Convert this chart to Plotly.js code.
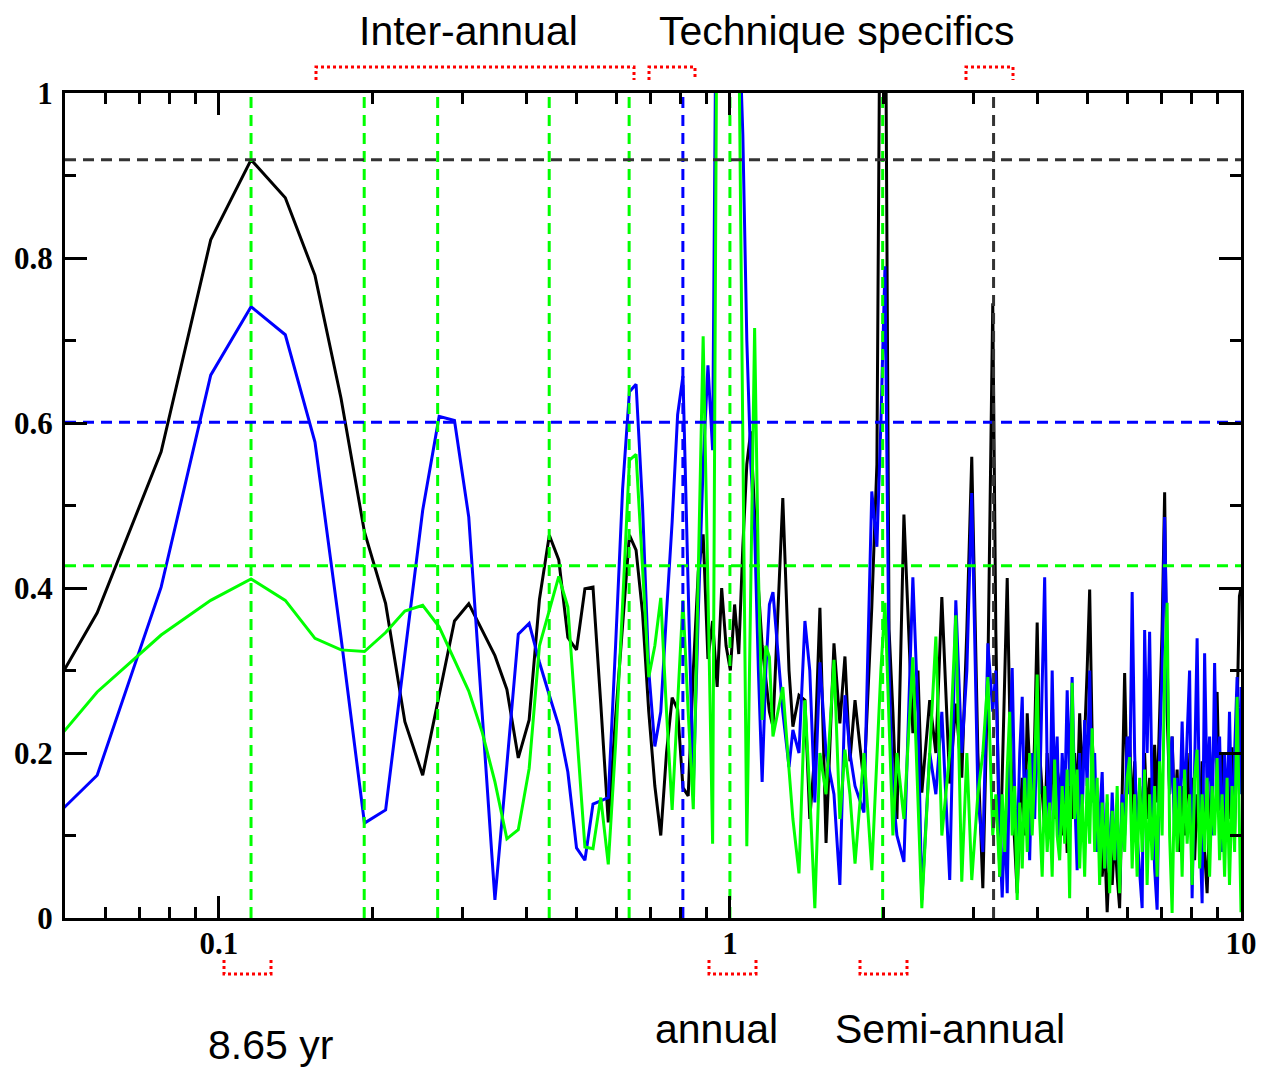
<!DOCTYPE html>
<html>
<head>
<meta charset="utf-8">
<script src="https://cdn.plot.ly/plotly-3.0.1.min.js"></script>
<style>html,body{margin:0;padding:0;background:#fff;}#chart{width:1261px;height:1068px;}</style>
</head>
<body>
<div id="chart"></div>
<script>
// Low-frequency part (uniform spectral grid, cycles per year)
const freqLow = [0.0385,0.0578,0.0771,0.0964,0.1156,0.1349,0.1542,0.1734,0.1927,0.2120,
0.2312,0.2505,0.2698,0.2891,0.3083,0.3276,0.3469,0.3661,0.3854,0.4047,
0.4239,0.4432,0.4625,0.4818,0.5010,0.5203,0.5396,0.5588,0.5781,0.5974,
0.6166,0.6359,0.6552,0.6745,0.6937,0.7130,0.7323,0.7515,0.7708,0.7901,
0.8093,0.8286,0.8479,0.8672,0.8864,0.9057,0.9250,0.9442,0.9635,0.9828,
1.0020,1.0213,1.0406,1.0598,1.0791,1.0984,1.1177,1.1369,1.1562,1.1755,
1.1947,1.2140];
const blackLow = [0.18,0.370,0.565,0.822,0.919,0.873,0.779,0.630,0.468,0.381,
0.238,0.173,0.270,0.360,0.381,0.349,0.318,0.277,0.194,0.240,
0.386,0.464,0.434,0.340,0.325,0.399,0.401,0.260,0.116,0.243,
0.353,0.464,0.446,0.370,0.250,0.160,0.100,0.200,0.267,0.253,
0.158,0.148,0.300,0.420,0.465,0.314,0.360,0.280,0.400,0.330,
0.300,0.380,0.320,0.450,0.550,0.590,0.490,0.400,0.330,0.286,
0.250,0.232];
const blueLow = [0.066,0.173,0.401,0.658,0.741,0.707,0.577,0.340,0.115,0.131,
0.320,0.494,0.608,0.603,0.486,0.250,0.022,0.186,0.344,0.357,
0.310,0.270,0.233,0.177,0.085,0.070,0.138,0.142,0.146,0.330,
0.520,0.638,0.647,0.500,0.300,0.208,0.250,0.370,0.480,0.610,
0.657,0.400,0.157,0.370,0.550,0.670,0.567,1.300,1.600,1.800,
1.700,1.400,1.100,0.950,0.700,0.550,0.470,0.300,0.165,0.300,
0.380,0.395];
const greenLow = [0.144,0.274,0.343,0.385,0.411,0.385,0.339,0.325,0.323,0.346,
0.372,0.379,0.353,0.312,0.275,0.225,0.165,0.096,0.107,0.181,
0.330,0.373,0.414,0.377,0.230,0.086,0.084,0.146,0.065,0.210,
0.380,0.555,0.562,0.420,0.292,0.330,0.388,0.250,0.131,0.260,
0.385,0.250,0.132,0.420,0.705,0.400,0.090,1.200,2.000,2.400,
2.200,1.600,1.100,0.550,0.087,0.400,0.715,0.420,0.240,0.330,
0.316,0.220];

// Mid-frequency part (read at visible extremes, 1.27 - 3.3 cpy)
const freqMid = [1.269,1.305,1.328,1.365,1.402,1.433,1.466,1.500,1.542,1.598,
1.641,1.679,1.717,1.757,1.829,1.895,1.939,1.974,2.011,2.048,
2.084,2.122,2.190,2.280,2.333,2.374,2.460,2.529,2.598,2.692,
2.767,2.842,2.908,2.973,3.056,3.125,3.197,3.268,3.313];
const blackMid = [0.509,0.30,0.232,0.27,0.264,0.12,0.20,0.376,0.091,0.333,
0.236,0.317,0.19,0.264,0.163,0.377,0.55,1.3,1.25,0.35,
0.25,0.12,0.489,0.224,0.30,0.152,0.264,0.2,0.389,0.163,
0.26,0.17,0.35,0.559,0.2,0.036,0.3,0.745,0.35];
const blueMid = [0.25,0.183,0.228,0.20,0.36,0.30,0.14,0.31,0.20,0.15,
0.04,0.27,0.20,0.16,0.128,0.517,0.45,0.60,0.79,0.30,
0.15,0.10,0.068,0.413,0.25,0.022,0.20,0.15,0.25,0.046,
0.385,0.20,0.30,0.515,0.15,0.08,0.333,0.25,0.30];
const greenMid = [0.28,0.18,0.12,0.054,0.264,0.15,0.012,0.20,0.15,0.313,
0.12,0.204,0.15,0.066,0.20,0.058,0.20,0.30,0.382,0.25,
0.10,0.20,0.12,0.316,0.15,0.012,0.20,0.341,0.10,0.20,
0.367,0.044,0.20,0.046,0.15,0.20,0.292,0.10,0.15];

// High-frequency part (dense band, 3.37 - 10 cpy)
const freqHigh = [3.372,3.410,3.449,3.488,3.527,3.567,3.607,3.648,3.690,3.732,
3.774,3.817,3.859,3.903,3.947,3.992,4.037,4.083,4.129,4.176,
4.223,4.271,4.319,4.368,4.418,4.468,4.519,4.570,4.621,4.673,
4.726,4.780,4.834,4.889,4.944,5.000,5.057,5.114,5.172,5.231,
5.290,5.350,5.411,5.472,5.534,5.597,5.660,5.724,5.788,5.854,
5.920,5.987,6.055,6.124,6.193,6.263,6.334,6.406,6.478,6.551,
6.625,6.700,6.776,6.853,6.931,7.009,7.089,7.169,7.250,7.332,
7.415,7.499,7.584,7.670,7.757,7.845,7.933,8.023,8.114,8.206,
8.299,8.393,8.488,8.584,8.681,8.779,8.879,8.979,9.081,9.184,
9.288,9.393,9.495,9.607,9.716,9.826,9.930,10.0];
const blackHigh = [0.05,0.18,0.30,0.412,0.25,0.15,0.09,0.03,0.12,0.17,
0.10,0.248,0.18,0.12,0.22,0.358,0.20,0.15,0.107,0.20,
0.13,0.22,0.12,0.18,0.159,0.10,0.16,0.079,0.17,0.12,
0.20,0.14,0.248,0.17,0.22,0.30,0.398,0.22,0.15,0.11,
0.14,0.05,0.09,0.007,0.08,0.04,0.10,0.05,0.012,0.15,
0.297,0.16,0.22,0.12,0.19,0.09,0.16,0.11,0.20,0.12,
0.17,0.10,0.21,0.14,0.25,0.35,0.516,0.25,0.15,0.22,
0.12,0.18,0.08,0.16,0.10,0.20,0.12,0.17,0.07,0.15,
0.10,0.19,0.08,0.03,0.12,0.18,0.22,0.274,0.13,0.20,
0.09,0.17,0.12,0.207,0.10,0.25,0.39,0.40];
const blueHigh = [0.10,0.025,0.12,0.03,0.20,0.303,0.15,0.08,0.20,0.268,
0.12,0.18,0.07,0.20,0.12,0.24,0.15,0.30,0.413,0.18,
0.10,0.30,0.15,0.22,0.09,0.20,0.14,0.276,0.16,0.292,
0.15,0.058,0.20,0.12,0.24,0.16,0.30,0.14,0.20,0.08,
0.12,0.177,0.06,0.14,0.05,0.152,0.07,0.13,0.04,0.15,
0.10,0.22,0.15,0.395,0.20,0.10,0.05,0.012,0.349,0.20,
0.347,0.15,0.06,0.01,0.20,0.30,0.486,0.30,0.15,0.22,
0.10,0.17,0.12,0.238,0.13,0.22,0.30,0.024,0.20,0.339,
0.12,0.018,0.321,0.15,0.22,0.10,0.309,0.15,0.22,0.08,
0.20,0.12,0.25,0.10,0.20,0.292,0.15,0.28];
const greenHigh = [0.05,0.15,0.08,0.18,0.25,0.10,0.16,0.022,0.14,0.06,
0.17,0.08,0.20,0.10,0.18,0.295,0.12,0.05,0.16,0.08,
0.14,0.05,0.192,0.10,0.07,0.16,0.09,0.18,0.024,0.285,
0.12,0.18,0.06,0.15,0.05,0.17,0.09,0.23,0.08,0.17,
0.04,0.14,0.06,0.15,0.03,0.13,0.07,0.16,0.03,0.14,
0.08,0.17,0.195,0.06,0.15,0.05,0.17,0.08,0.18,0.04,
0.15,0.07,0.16,0.05,0.19,0.10,0.30,0.382,0.10,0.006,
0.17,0.08,0.16,0.05,0.18,0.09,0.15,0.04,0.17,0.204,
0.06,0.15,0.08,0.17,0.05,0.16,0.10,0.194,0.07,0.15,
0.05,0.17,0.04,0.16,0.08,0.268,0.10,0.007];

// Reference (significance) lines
const refGreenFreq = [0.1156,0.1925,0.268,0.443,0.635,1.0,1.99];
const refBlueFreq = [0.809];
const refBlackFreq = [3.28];
const levelBlack = 0.919, levelBlue = 0.601, levelGreen = 0.427;
const xMin = 0.05, xMax = 10;

const xTickVals = [0.1,1,10], xTickText = ['0.1','1','10'];
const xMinorVals = [0.06,0.07,0.08,0.09,0.2,0.3,0.4,0.5,0.6,0.7,0.8,0.9,2,3,4,5,6,7,8,9];
const yTickVals = [0,0.2,0.4,0.6,0.8,1], yTickText = ['0','0.2','0.4','0.6','0.8','1'];
const yMinorVals = [0.1,0.3,0.5,0.7,0.9];

function series(lo, mid, hi, color){
  return {type:'scatter', mode:'lines', x: freqLow.concat(freqMid, freqHigh), y: lo.concat(mid, hi),
    line:{color:color, width:3}, hoverinfo:'skip'};
}
function refLines(freqs, level, color){
  const x=[], y=[];
  freqs.forEach(f=>{ x.push(f,f,null); y.push(0,1,null); });
  x.push(xMin,xMax); y.push(level,level);
  return {type:'scatter', mode:'lines', x:x, y:y, connectgaps:false,
    line:{color:color, width:3, dash:'11px,7px'}, hoverinfo:'skip'};
}

const data = [
  series(blackLow, blackMid, blackHigh, '#000000'),
  series(blueLow, blueMid, blueHigh, '#0000ff'),
  series(greenLow, greenMid, greenHigh, '#00ff00'),
  refLines(refGreenFreq, levelGreen, '#00ff00'),
  refLines(refBlueFreq, levelBlue, '#0000ff'),
  refLines(refBlackFreq, levelBlack, '#333333')
];

function px2paperX(p){ return (p-65)/1176; }
function px2paperY(p){ return (918-p)/825; }
function bracketTop(a,b){
  const x0=px2paperX(a), x1=px2paperX(b), y0=px2paperY(67), y1=px2paperY(80);
  return {type:'path', xref:'paper', yref:'paper', path:`M${x0},${y1} L${x0},${y0} L${x1},${y0} L${x1},${y1}`,
    line:{color:'#ff0000', width:3, dash:'dot'}};
}
function bracketBot(a,b){
  const x0=px2paperX(a), x1=px2paperX(b), y0=px2paperY(974), y1=px2paperY(960);
  return {type:'path', xref:'paper', yref:'paper', path:`M${x0},${y1} L${x0},${y0} L${x1},${y0} L${x1},${y1}`,
    line:{color:'#ff0000', width:3, dash:'dot'}};
}
function label(text, cx, cy){
  return {text:text, xref:'paper', yref:'paper', x:px2paperX(cx), y:px2paperY(cy),
    xanchor:'center', yanchor:'middle', showarrow:false,
    font:{family:'Liberation Sans, Arial, sans-serif', size:41, color:'#000'}};
}

const tickFont = {family:'Liberation Serif, Times New Roman, serif', size:31, color:'#000', weight:'bold'};
const layout = {
  width:1261, height:1068,
  margin:{l:65, r:20, t:93, b:150, pad:0},
  paper_bgcolor:'#fff', plot_bgcolor:'#fff',
  showlegend:false,
  xaxis:{type:'log', range:[Math.log10(xMin), Math.log10(xMax)],
    showline:true, linecolor:'#000', linewidth:3, mirror:'ticks',
    ticks:'inside', ticklen:22, tickwidth:3, tickcolor:'#000',
    tickmode:'array', tickvals:xTickVals, ticktext:xTickText, tickfont:tickFont,
    ticklabelstandoff:-4,
    minor:{ticks:'inside', ticklen:11, tickwidth:3, tickcolor:'#000', tickmode:'array', tickvals:xMinorVals, showgrid:false},
    showgrid:false, zeroline:false},
  yaxis:{range:[0,1],
    showline:true, linecolor:'#000', linewidth:3, mirror:'ticks',
    ticks:'inside', ticklen:22, tickwidth:3, tickcolor:'#000',
    tickmode:'array', tickvals:yTickVals, ticktext:yTickText, tickfont:tickFont,
    ticklabelstandoff:3,
    minor:{ticks:'inside', ticklen:11, tickwidth:3, tickcolor:'#000', tickmode:'array', tickvals:yMinorVals, showgrid:false},
    showgrid:false, zeroline:false},
  shapes:[bracketTop(316,634), bracketTop(649,695), bracketTop(966,1013),
          bracketBot(224,271), bracketBot(709,756), bracketBot(860,907)],
  annotations:[label('Inter-annual',468,31), label('Technique specifics',837,31),
               label('8.65 yr',270,1045), label('annual',716,1029), label('Semi-annual',950,1029)]
};

Plotly.newPlot('chart', data, layout, {staticPlot:true, displayModeBar:false});
</script>
</body>
</html>
